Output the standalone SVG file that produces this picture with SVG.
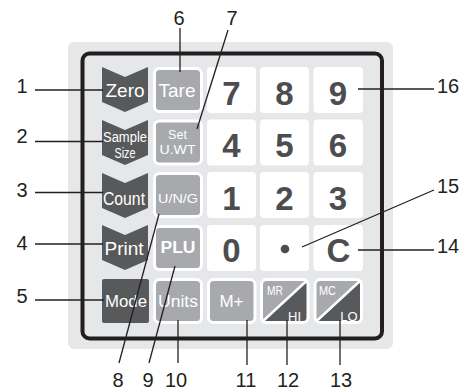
<svg xmlns="http://www.w3.org/2000/svg" width="470" height="392" viewBox="0 0 470 392">
<style>
.dk{fill:#58595b}
.lg{fill:#a7a9ac;stroke:#fff;stroke-width:3}
.wk{fill:#fff}
.kt{font-family:"Liberation Sans",Arial,sans-serif;fill:#fff;text-anchor:middle}
.num{font-family:"Liberation Sans",Arial,sans-serif;font-weight:bold;font-size:33px;fill:#4d4d4f;text-anchor:middle}
.lbl{font-family:"Liberation Sans",Arial,sans-serif;font-size:20px;fill:#231f20}
.ln{stroke:#231f20;stroke-width:1.3;fill:none}
</style>
<defs>
<path id="chev" d="M102,67 L125,77 L148,67 L148,102 L125,112 L102,102 Z"/>
<clipPath id="c12"><rect x="261.5" y="279.5" width="46.5" height="43" rx="5"/></clipPath>
<clipPath id="c13"><rect x="315" y="279.5" width="46.5" height="43" rx="5"/></clipPath>
</defs>
<rect x="68" y="42" width="325" height="307" rx="6" fill="#e6e7e8"/>
<rect x="82.5" y="53.5" width="299.5" height="285" rx="7" fill="#e6e7e8" stroke="#231f20" stroke-width="4"/>

<g id="zero"><use href="#chev" class="dk"/><text class="kt" x="125" y="97" font-size="19">Zero</text></g>
<g id="sample-size"><use href="#chev" class="dk" transform="translate(0,53)"/><text class="kt" x="125" y="142" font-size="14" textLength="44" lengthAdjust="spacingAndGlyphs">Sample</text><text class="kt" x="125" y="158" font-size="14" textLength="21" lengthAdjust="spacingAndGlyphs">Size</text></g>
<g id="count"><use href="#chev" class="dk" transform="translate(0,106)"/><text class="kt" x="124" y="205" font-size="19" textLength="42" lengthAdjust="spacingAndGlyphs">Count</text></g>
<g id="print"><use href="#chev" class="dk" transform="translate(0,158)"/><text class="kt" x="124" y="255" font-size="19">Print</text></g>
<g id="mode"><rect class="dk" x="102" y="279" width="47" height="44" rx="2"/><text class="kt" x="126" y="307" font-size="17" textLength="42" lengthAdjust="spacingAndGlyphs">Mode</text></g>

<g id="tare"><rect class="lg" x="154.5" y="68.5" width="47" height="43" rx="5"/><text class="kt" x="177" y="97" font-size="19">Tare</text></g>
<g id="set-uwt"><rect class="lg" x="154.5" y="121" width="47" height="43" rx="5"/><text class="kt" x="177.5" y="139" font-size="12.5">Set</text><text class="kt" x="177.5" y="153.5" font-size="12.5" textLength="36" lengthAdjust="spacingAndGlyphs">U.WT</text></g>
<g id="ung"><rect class="lg" x="154.5" y="173.5" width="47" height="43" rx="5"/><text class="kt" x="178" y="203" font-size="13" textLength="40" lengthAdjust="spacingAndGlyphs">U/N/G</text></g>
<g id="plu"><rect class="lg" x="154.5" y="226.5" width="47" height="43" rx="5"/><text class="kt" x="178" y="253" font-size="16" font-weight="bold" textLength="35" lengthAdjust="spacingAndGlyphs">PLU</text></g>
<g id="units"><rect class="lg" x="154.5" y="279.5" width="47" height="43" rx="5"/><text class="kt" x="178" y="307" font-size="17" textLength="40" lengthAdjust="spacingAndGlyphs">Units</text></g>

<g id="k7"><rect class="wk" x="207" y="67" width="49" height="46" rx="4"/><text class="num" x="231.5" y="105">7</text></g>
<g id="k8"><rect class="wk" x="260" y="67" width="49" height="46" rx="4"/><text class="num" x="284.5" y="105">8</text></g>
<g id="k9"><rect class="wk" x="313.5" y="67" width="49.5" height="46" rx="4"/><text class="num" x="338" y="105">9</text></g>
<g id="k4"><rect class="wk" x="207" y="119.5" width="49" height="46" rx="4"/><text class="num" x="231.5" y="157">4</text></g>
<g id="k5"><rect class="wk" x="260" y="119.5" width="49" height="46" rx="4"/><text class="num" x="284.5" y="157">5</text></g>
<g id="k6"><rect class="wk" x="313.5" y="119.5" width="49.5" height="46" rx="4"/><text class="num" x="338" y="157">6</text></g>
<g id="k1"><rect class="wk" x="207" y="172" width="49" height="46" rx="4"/><text class="num" x="231.5" y="210">1</text></g>
<g id="k2"><rect class="wk" x="260" y="172" width="49" height="46" rx="4"/><text class="num" x="284.5" y="210">2</text></g>
<g id="k3"><rect class="wk" x="313.5" y="172" width="49.5" height="46" rx="4"/><text class="num" x="338" y="210">3</text></g>
<g id="k0"><rect class="wk" x="207" y="225" width="49" height="46" rx="4"/><text class="num" x="231.5" y="262">0</text></g>
<g id="kdot"><rect class="wk" x="260" y="225" width="49" height="46" rx="4"/><circle cx="285" cy="249" r="4.3" fill="#4d4d4f"/></g>
<g id="kc"><rect class="wk" x="313.5" y="225" width="49.5" height="46" rx="4"/><text class="num" x="338.5" y="262">C</text></g>

<g id="mplus"><rect class="lg" x="208.5" y="279.5" width="46.5" height="43" rx="5"/><text class="kt" x="231.5" y="307" font-size="17">M+</text></g>
<g id="mr-hi"><rect x="261.5" y="279.5" width="46.5" height="43" rx="5" fill="#a7a9ac"/><polygon class="dk" points="261.5,322.5 308,322.5 308,279.5" clip-path="url(#c12)"/><line x1="262" y1="322" x2="307.5" y2="280" stroke="#fff" stroke-width="2.5"/><rect x="261.5" y="279.5" width="46.5" height="43" rx="5" fill="none" stroke="#fff" stroke-width="3"/><text class="kt" x="275" y="295" font-size="13" textLength="16" lengthAdjust="spacingAndGlyphs">MR</text><text class="kt" x="294.5" y="321" font-size="13">HI</text></g>
<g id="mc-lo"><rect x="315" y="279.5" width="46.5" height="43" rx="5" fill="#a7a9ac"/><polygon class="dk" points="315,322.5 361.5,322.5 361.5,279.5" clip-path="url(#c13)"/><line x1="315.5" y1="322" x2="361" y2="280" stroke="#fff" stroke-width="2.5"/><rect x="315" y="279.5" width="46.5" height="43" rx="5" fill="none" stroke="#fff" stroke-width="3"/><text class="kt" x="327.5" y="295" font-size="13" textLength="17" lengthAdjust="spacingAndGlyphs">MC</text><text class="kt" x="349" y="321" font-size="13">LO</text></g>

<g id="connectors">
<line class="ln" x1="35" y1="90" x2="103" y2="90"/>
<line class="ln" x1="35" y1="141.5" x2="103" y2="141.5"/>
<line class="ln" x1="35" y1="192.5" x2="103" y2="192.5"/>
<line class="ln" x1="35" y1="244" x2="103" y2="244"/>
<line class="ln" x1="35" y1="300" x2="104" y2="300"/>
<line class="ln" x1="180" y1="28" x2="180" y2="72"/>
<line class="ln" x1="228" y1="30" x2="197" y2="129"/>
<line class="ln" x1="119" y1="363" x2="159" y2="214"/>
<line class="ln" x1="149" y1="363" x2="175" y2="266"/>
<line class="ln" x1="178" y1="320" x2="178" y2="363"/>
<line class="ln" x1="247" y1="320" x2="247" y2="365"/>
<line class="ln" x1="287" y1="320" x2="287" y2="365"/>
<line class="ln" x1="340" y1="320" x2="340" y2="365"/>
<line class="ln" x1="358" y1="89" x2="434" y2="89"/>
<line class="ln" x1="434" y1="190" x2="302" y2="247"/>
<line class="ln" x1="358" y1="250" x2="434" y2="250"/>
</g>

<g id="callouts" class="lbl">
<text x="22" y="93" text-anchor="middle">1</text>
<text x="22" y="143" text-anchor="middle">2</text>
<text x="22" y="197" text-anchor="middle">3</text>
<text x="22" y="250" text-anchor="middle">4</text>
<text x="22" y="303" text-anchor="middle">5</text>
<text x="179" y="25" text-anchor="middle">6</text>
<text x="232" y="25" text-anchor="middle">7</text>
<text x="118" y="387" text-anchor="middle">8</text>
<text x="148" y="387" text-anchor="middle">9</text>
<text x="176" y="387" text-anchor="middle">10</text>
<text x="246" y="387" text-anchor="middle">11</text>
<text x="288" y="387" text-anchor="middle">12</text>
<text x="341" y="387" text-anchor="middle">13</text>
<text x="437" y="253">14</text>
<text x="437" y="193">15</text>
<text x="437" y="93">16</text>
</g>
</svg>
